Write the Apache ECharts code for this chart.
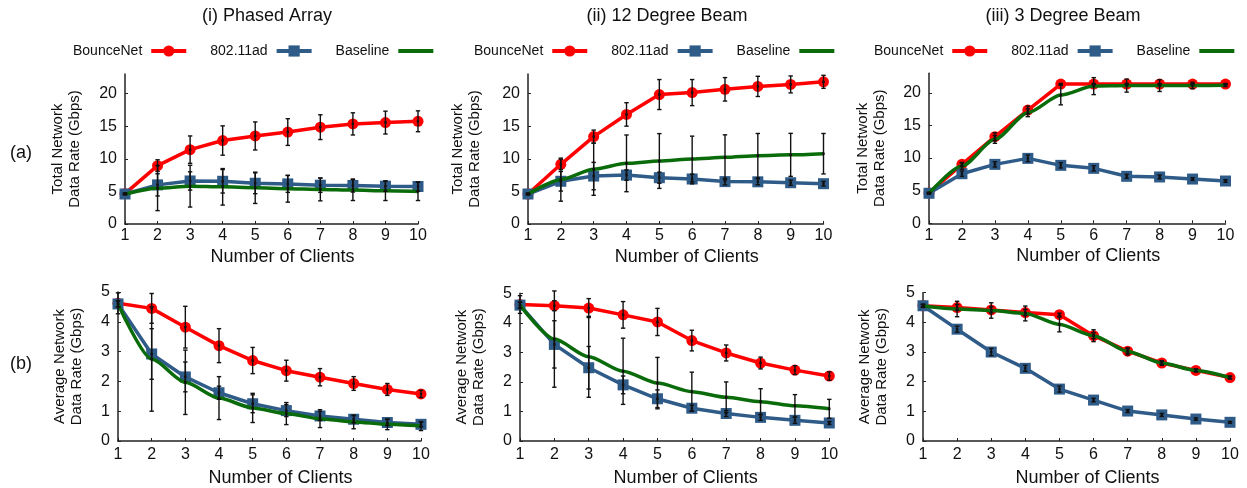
<!DOCTYPE html>
<html>
<head>
<meta charset="utf-8">
<script src="https://cdn.jsdelivr.net/npm/echarts@6/dist/echarts.min.js"></script>
<style>
html,body{margin:0;padding:0;background:#fff;}
#chart{width:1247px;height:488px;}
</style>
</head>
<body>
<div id="chart"></div>
<script>
// ---------- data ----------
const clients = [1, 2, 3, 4, 5, 6, 7, 8, 9, 10];
const seriesNames = ['BounceNet', '802.11ad', 'Baseline'];
const panelTitles = ['(i) Phased Array', '(ii) 12 Degree Beam', '(iii) 3 Degree Beam'];
const rowLabels = ['(a)', '(b)'];
const totalTicks = [0, 5, 10, 15, 20];
const avgTicks = [0, 1, 2, 3, 4, 5];

// (i) Phased Array - total
const p1TotalBounce    = [4.65, 8.95, 11.4, 12.8, 13.5, 14.1, 14.85, 15.35, 15.55, 15.75];
const p1TotalBounceErr = [0.1, 0.9, 2.1, 2.25, 2.15, 2.05, 1.9, 1.7, 1.75, 1.6];
const p1Total80211     = [4.6, 6.0, 6.6, 6.55, 6.25, 6.15, 5.95, 5.9, 5.8, 5.75];
const p1Total80211Err  = [0.1, 1.7, 1.4, 1.8, 1.6, 1.3, 1.1, 1.0, 0.8, 0.7];
const p1TotalBase      = [4.6, 5.5, 5.8, 5.7, 5.55, 5.4, 5.3, 5.2, 5.1, 5.0];
const p1TotalBaseErr   = [0.1, 3.45, 3.2, 2.8, 2.4, 2.05, 1.75, 1.6, 1.5, 1.4];
// (i) Phased Array - average
const p1AvgBounce      = [4.62, 4.45, 3.82, 3.2, 2.7, 2.36, 2.14, 1.93, 1.73, 1.58];
const p1AvgBounceErr   = [0.35, 0.5, 0.7, 0.57, 0.44, 0.35, 0.29, 0.23, 0.2, 0.12];
const p1Avg80211       = [4.6, 2.92, 2.15, 1.62, 1.25, 1.02, 0.84, 0.73, 0.62, 0.56];
const p1Avg80211Err    = [0.1, 0.85, 0.5, 0.22, 0.3, 0.2, 0.15, 0.12, 0.1, 0.08];
const p1AvgBase        = [4.6, 2.75, 1.97, 1.44, 1.11, 0.92, 0.75, 0.64, 0.56, 0.5];
const p1AvgBaseErr     = [0.1, 1.75, 1.08, 0.72, 0.49, 0.37, 0.3, 0.23, 0.18, 0.15];

// (ii) 12 Degree Beam - total
const p2TotalBounce    = [4.6, 9.15, 13.4, 16.8, 19.85, 20.15, 20.65, 21.1, 21.4, 21.8];
const p2TotalBounceErr = [0.1, 0.8, 1.0, 1.8, 2.3, 2.0, 1.8, 1.55, 1.3, 1.0];
const p2Total80211     = [4.6, 6.55, 7.35, 7.5, 7.1, 6.9, 6.5, 6.47, 6.33, 6.18];
const p2Total80211Err  = [0.1, 1.5, 2.1, 0.8, 0.85, 0.75, 0.5, 0.45, 0.4, 0.35];
const p2TotalBase      = [4.6, 6.8, 8.4, 9.3, 9.66, 9.97, 10.22, 10.48, 10.6, 10.78];
const p2TotalBaseErr   = [0.1, 3.3, 4.0, 4.35, 4.2, 3.5, 3.45, 3.4, 3.3, 3.1];
// (ii) 12 Degree Beam - average
const p2AvgBounce      = [4.62, 4.58, 4.5, 4.27, 4.03, 3.4, 2.98, 2.64, 2.4, 2.2];
const p2AvgBounceErr   = [0.3, 0.17, 0.32, 0.45, 0.46, 0.35, 0.27, 0.2, 0.15, 0.14];
const p2Avg80211       = [4.6, 3.27, 2.48, 1.9, 1.43, 1.11, 0.93, 0.8, 0.7, 0.61];
const p2Avg80211Err    = [0.1, 0.8, 0.72, 0.3, 0.3, 0.1, 0.1, 0.1, 0.1, 0.05];
const p2AvgBase        = [4.6, 3.45, 2.85, 2.36, 1.96, 1.67, 1.48, 1.33, 1.19, 1.09];
const p2AvgBaseErr     = [0.1, 1.63, 1.37, 1.12, 0.87, 0.66, 0.52, 0.44, 0.38, 0.32];

// (iii) 3 Degree Beam - total
const p3TotalBounce    = [4.65, 9.03, 13.27, 17.35, 21.33, 21.33, 21.33, 21.33, 21.33, 21.33];
const p3TotalBounceErr = [0.1, 0.3, 0.6, 0.6, 0.1, 0.1, 0.1, 0.1, 0.1, 0.1];
const p3Total80211     = [4.6, 7.6, 9.03, 9.95, 8.88, 8.42, 7.2, 7.1, 6.78, 6.48];
const p3Total80211Err  = [0.1, 0.4, 0.4, 0.5, 0.4, 0.4, 0.3, 0.3, 0.2, 0.2];
const p3TotalBase      = [4.6, 8.77, 12.86, 16.94, 19.65, 21.02, 21.1, 21.1, 21.12, 21.15];
const p3TotalBaseErr   = [0.1, 0.5, 0.6, 0.6, 1.5, 1.3, 1.0, 0.9, 0.5, 0.2];
// (iii) 3 Degree Beam - average
const p3AvgBounce      = [4.56, 4.5, 4.42, 4.33, 4.26, 3.55, 3.03, 2.63, 2.38, 2.14];
const p3AvgBounceErr   = [0.05, 0.1, 0.1, 0.1, 0.05, 0.1, 0.08, 0.05, 0.05, 0.05];
const p3Avg80211       = [4.56, 3.77, 3.0, 2.45, 1.75, 1.38, 1.01, 0.88, 0.74, 0.63];
const p3Avg80211Err    = [0.05, 0.1, 0.12, 0.1, 0.1, 0.06, 0.05, 0.05, 0.04, 0.03];
const p3AvgBase        = [4.55, 4.45, 4.4, 4.3, 3.93, 3.55, 3.02, 2.63, 2.38, 2.14];
const p3AvgBaseErr     = [0.05, 0.26, 0.26, 0.25, 0.25, 0.2, 0.12, 0.08, 0.05, 0.04];

// ---------- build ----------
const FONT = '"Liberation Sans", Arial, Helvetica, sans-serif';
const TXT = '#111';
const COLORS = ['#ff0000', '#2f5b89', '#0a6b0a'];

const panels = [
  { vals: [p1TotalBounce, p1Total80211, p1TotalBase], errs: [p1TotalBounceErr, p1Total80211Err, p1TotalBaseErr], row: 0 },
  { vals: [p2TotalBounce, p2Total80211, p2TotalBase], errs: [p2TotalBounceErr, p2Total80211Err, p2TotalBaseErr], row: 0 },
  { vals: [p3TotalBounce, p3Total80211, p3TotalBase], errs: [p3TotalBounceErr, p3Total80211Err, p3TotalBaseErr], row: 0 },
  { vals: [p1AvgBounce, p1Avg80211, p1AvgBase], errs: [p1AvgBounceErr, p1Avg80211Err, p1AvgBaseErr], row: 1 },
  { vals: [p2AvgBounce, p2Avg80211, p2AvgBase], errs: [p2AvgBounceErr, p2Avg80211Err, p2AvgBaseErr], row: 1 },
  { vals: [p3AvgBounce, p3Avg80211, p3AvgBase], errs: [p3AvgBounceErr, p3Avg80211Err, p3AvgBaseErr], row: 1 }
];

const gridBoxes = [
  { left: 125, top: 74, width: 293, height: 150 },
  { left: 528, top: 74, width: 295.5, height: 150 },
  { left: 929, top: 73.2, width: 296.5, height: 150.1 },
  { left: 118, top: 292, width: 303, height: 150 },
  { left: 520, top: 293.3, width: 309.3, height: 150.7 },
  { left: 923, top: 292.7, width: 307, height: 151.3 }
];
const yNameGaps = [42, 45, 41, 33, 33, 33];

const grid = [], xAxis = [], yAxis = [], series = [];

gridBoxes.forEach((g, i) => {
  grid.push(Object.assign({ containLabel: false }, g));
  const row = panels[i].row;
  xAxis.push({
    type: 'value', gridIndex: i, min: 1, max: 10, interval: 1,
    name: 'Number of Clients', nameLocation: 'middle', nameGap: row === 0 ? 24 : 28,
    nameTextStyle: { fontFamily: FONT, fontSize: 18, color: TXT, padding: [0, 0, 0, 22] },
    axisLine: { show: true, onZero: false, lineStyle: { color: '#222', width: 1.5 } },
    axisTick: { show: true, inside: true, length: 3, lineStyle: { color: '#222' } },
    axisLabel: { fontFamily: FONT, fontSize: 16, color: TXT, margin: row === 0 ? 4 : 6 },
    splitLine: { show: false }
  });
  const ticks = row === 0 ? totalTicks : avgTicks;
  yAxis.push({
    type: 'value', gridIndex: i, min: 0, max: row === 0 ? 23 : 5, interval: row === 0 ? 5 : 1,
    name: row === 0 ? 'Total Network\nData Rate (Gbps)' : 'Average Network\nData Rate (Gbps)',
    nameLocation: 'middle', nameRotate: 90, nameGap: yNameGaps[i],
    nameTextStyle: { fontFamily: FONT, fontSize: 15, color: TXT, lineHeight: 17 },
    axisLine: { show: true, onZero: false, lineStyle: { color: '#222', width: 1.5 } },
    axisTick: { show: true, inside: true, length: 3, customValues: ticks, lineStyle: { color: '#222' } },
    axisLabel: { fontFamily: FONT, fontSize: 16, color: TXT, margin: 8, customValues: ticks },
    splitLine: { show: false }
  });

  panels[i].vals.forEach((vals, s) => {
    const base = {
      name: seriesNames[s], type: 'line', xAxisIndex: i, yAxisIndex: i,
      data: clients.map((c, k) => [c, vals[k]]),
      color: COLORS[s],
      lineStyle: { width: 3.5, color: COLORS[s] },
      itemStyle: { color: COLORS[s] },
      z: 2 + s, silent: true
    };
    if (s === 0) { base.symbol = 'circle'; base.symbolSize = 11; }
    else if (s === 1) { base.symbol = 'rect'; base.symbolSize = 11; }
    else { base.symbol = 'none'; base.smooth = 0.25; base.smoothMonotone = 'x'; }
    series.push(base);

    const errs = panels[i].errs[s];
    series.push({
      type: 'custom', xAxisIndex: i, yAxisIndex: i, silent: true, z: 10, clip: false,
      data: clients.map((c, k) => [c, vals[k] - errs[k], vals[k] + errs[k], vals[k]]),
      encode: { x: 0, y: [1, 2, 3] },
      renderItem: function (params, api) {
        const x = api.value(0);
        const lo = api.coord([x, api.value(1)]);
        const hi = api.coord([x, api.value(2)]);
        const mid = api.coord([x, api.value(3)]);
        const cap = 2.2;
        const st = { stroke: '#111', lineWidth: 1.4 };
        return {
          type: 'group', children: [
            { type: 'line', shape: { x1: lo[0], y1: lo[1], x2: hi[0], y2: hi[1] }, style: st },
            { type: 'line', shape: { x1: lo[0] - cap, y1: lo[1], x2: lo[0] + cap, y2: lo[1] }, style: st },
            { type: 'line', shape: { x1: hi[0] - cap, y1: hi[1], x2: hi[0] + cap, y2: hi[1] }, style: st },
            { type: 'rect', shape: { x: mid[0] - 1.2, y: mid[1] - 1.2, width: 2.4, height: 2.4 }, style: { fill: '#111' } }
          ]
        };
      }
    });
  });
});

const legendLefts = [68, 469, 869];
const legend = legendLefts.map(l => ({
  left: l, top: 39, orient: 'horizontal', align: 'right',
  itemWidth: 35, itemHeight: 14, itemGap: 22,
  data: [
    { name: seriesNames[0] },
    { name: seriesNames[1] },
    { name: seriesNames[2], itemStyle: { opacity: 0 } }
  ],
  selectedMode: false,
  textStyle: { fontFamily: FONT, fontSize: 14, color: TXT, padding: [0, 4, 0, 0] },
  lineStyle: { width: 4 }
}));

const titleCenters = [267, 667, 1063];
const graphic = [];
panelTitles.forEach((t, i) => {
  graphic.push({ type: 'text', x: titleCenters[i], y: 16, style: { text: t, font: '18px ' + FONT, fill: TXT, align: 'center', verticalAlign: 'middle' } });
});
graphic.push({ type: 'text', x: 21, y: 153, style: { text: rowLabels[0], font: '18px ' + FONT, fill: TXT, align: 'center', verticalAlign: 'middle' } });
graphic.push({ type: 'text', x: 21, y: 364, style: { text: rowLabels[1], font: '18px ' + FONT, fill: TXT, align: 'center', verticalAlign: 'middle' } });

const chart = echarts.init(document.getElementById('chart'), null, { renderer: 'canvas' });
chart.setOption({
  animation: false,
  backgroundColor: '#fff',
  textStyle: { fontFamily: FONT },
  grid, xAxis, yAxis, legend, graphic, series
});
</script>
</body>
</html>
